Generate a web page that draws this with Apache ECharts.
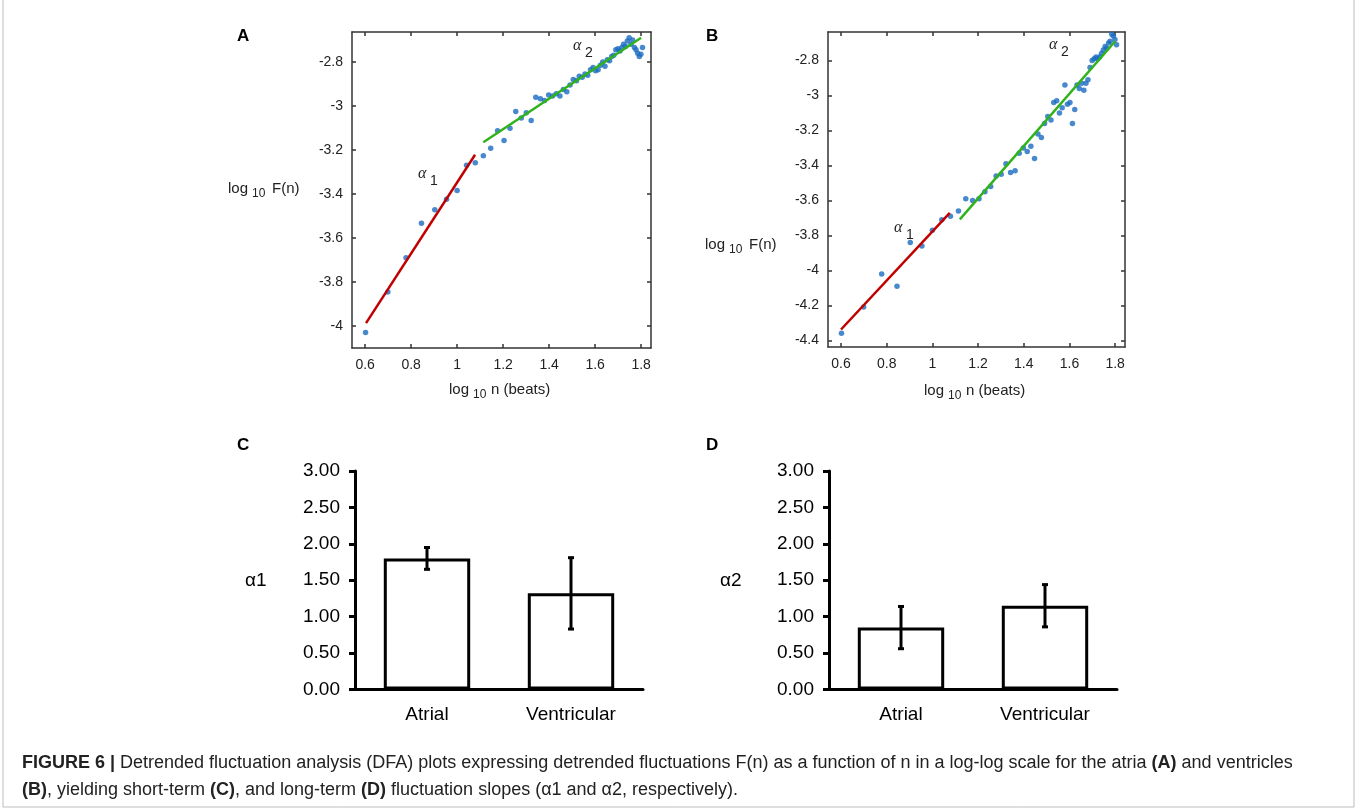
<!DOCTYPE html>
<html>
<head>
<meta charset="utf-8">
<script src="https://cdn.jsdelivr.net/npm/echarts@6/dist/echarts.min.js"></script>
<style>
html,body{margin:0;padding:0;background:#fff;}
#main{width:1357px;height:810px;}
</style>
</head>
<body>
<div id="main"></div>
<script>
// ---------- DATA ----------
// log10 n (beats) for n = 4..64
const logN = [0.602,0.699,0.778,0.845,0.903,0.954,1.000,1.041,1.079,1.114,1.146,1.176,1.204,1.230,1.255,1.279,1.301,1.322,1.342,1.362,
  1.380,1.398,1.415,1.431,1.447,1.462,1.477,1.491,1.505,1.519,1.531,1.544,1.556,1.568,1.580,1.591,1.602,1.613,1.623,1.633,
  1.643,1.653,1.663,1.672,1.681,1.690,1.699,1.708,1.716,1.724,1.732,1.740,1.748,1.756,1.763,1.771,1.778,1.785,1.792,1.799,1.806];
// Panel A (atria) log10 F(n)
const logF_A = [-4.03,-3.845,-3.69,-3.533,-3.472,-3.424,-3.384,-3.27,-3.258,-3.226,-3.192,-3.113,-3.157,-3.101,-3.025,-3.055,-3.031,-3.066,-2.96,-2.967,
  -2.975,-2.950,-2.955,-2.945,-2.955,-2.925,-2.935,-2.905,-2.880,-2.885,-2.865,-2.870,-2.855,-2.860,-2.835,-2.825,-2.840,-2.835,-2.815,-2.800,
  -2.820,-2.790,-2.795,-2.775,-2.770,-2.745,-2.740,-2.750,-2.735,-2.720,-2.730,-2.705,-2.690,-2.720,-2.700,-2.735,-2.745,-2.760,-2.775,-2.765,-2.735];
// Panel B (ventricles) log10 F(n)
const logF_B = [-4.36,-4.21,-4.02,-4.09,-3.84,-3.86,-3.77,-3.71,-3.69,-3.66,-3.59,-3.60,-3.59,-3.55,-3.52,-3.46,-3.45,-3.39,-3.44,-3.43,
  -3.33,-3.30,-3.32,-3.29,-3.36,-3.22,-3.24,-3.16,-3.12,-3.14,-3.04,-3.03,-3.10,-3.07,-2.94,-3.05,-3.04,-3.16,-3.08,-2.94,
  -2.96,-2.93,-2.97,-2.93,-2.91,-2.84,-2.80,-2.79,-2.78,-2.79,-2.78,-2.76,-2.74,-2.72,-2.73,-2.70,-2.69,-2.65,-2.66,-2.68,-2.71];
// fitted lines (end points)
const fitA1 = [[0.604,-3.987],[1.078,-3.222]];
const fitA2 = [[1.114,-3.165],[1.800,-2.690]];
const fitB1 = [[0.600,-4.338],[1.076,-3.671]];
const fitB2 = [[1.120,-3.708],[1.800,-2.690]];
// tick labels
const xTicksScatter = [0.6,0.8,1.0,1.2,1.4,1.6,1.8];
const yTicksA = [-4,-3.8,-3.6,-3.4,-3.2,-3,-2.8];
const yTicksB = [-4.4,-4.2,-4,-3.8,-3.6,-3.4,-3.2,-3,-2.8];
// bar panels
const groups = ['Atrial','Ventricular'];
const alpha1Mean = [1.80, 1.32];
const alpha1Err = [0.15, 0.49];
const alpha2Mean = [0.85, 1.15];
const alpha2Err = [0.29, 0.29];

// ---------- CHART ----------
const FONT = "'Liberation Sans', Arial, sans-serif";
const chart = echarts.init(document.getElementById('main'), null, {renderer:'canvas'});

function zip(xs, ys){ return xs.map((x,i)=>[x, ys[i]]); }

function scatterX(grid, pos, show){
  return {
    type:'value', gridIndex:grid, position:pos, min:0.543, max:1.843,
    axisLine:{show:true, onZero:false, lineStyle:{color:'#333', width:1.5}},
    axisTick:{show:true, inside:true, length:4, customValues:xTicksScatter, lineStyle:{color:'#333', width:1.5}},
    axisLabel:{show:show, customValues:xTicksScatter, fontSize:14, color:'#222', fontFamily:FONT, margin:10},
    splitLine:{show:false}
  };
}
function scatterY(grid, pos, show, min, max, ticks){
  return {
    type:'value', gridIndex:grid, position:pos, min:min, max:max,
    axisLine:{show:true, onZero:false, lineStyle:{color:'#333', width:1.5}},
    axisTick:{show:true, inside:true, length:4, customValues:ticks, lineStyle:{color:'#333', width:1.5}},
    axisLabel:{show:show, customValues:ticks, fontSize:14, color:'#222', fontFamily:FONT, margin:9},
    splitLine:{show:false}
  };
}
function barX(grid){
  return {
    type:'category', gridIndex:grid, data:groups,
    axisLine:{show:true, lineStyle:{color:'#000', width:3}},
    axisTick:{show:false},
    axisLabel:{fontSize:19, color:'#000', fontFamily:FONT, margin:16},
    splitLine:{show:false}
  };
}
function barY(grid){
  return {
    type:'value', gridIndex:grid, min:0, max:3, interval:0.5,
    axisLine:{show:true, lineStyle:{color:'#000', width:3}},
    axisTick:{show:true, inside:false, length:6, lineStyle:{color:'#000', width:3}},
    axisLabel:{fontSize:19, color:'#000', fontFamily:FONT, margin:15, formatter:v=>v.toFixed(2)},
    splitLine:{show:false}
  };
}
function errSeries(xi, yi, means, errs){
  return {
    type:'custom', xAxisIndex:xi, yAxisIndex:yi, z:5,
    data: means.map((m,i)=>[i, m-errs[i], m+errs[i]]),
    renderItem:function(params, api){
      const lo = api.coord([api.value(0), api.value(1)]);
      const hi = api.coord([api.value(0), api.value(2)]);
      const cw = 3;
      const st = {stroke:'#000', lineWidth:3};
      return {type:'group', children:[
        {type:'line', shape:{x1:lo[0], y1:lo[1], x2:hi[0], y2:hi[1]}, style:st},
        {type:'line', shape:{x1:lo[0]-cw, y1:lo[1], x2:lo[0]+cw, y2:lo[1]}, style:st},
        {type:'line', shape:{x1:hi[0]-cw, y1:hi[1], x2:hi[0]+cw, y2:hi[1]}, style:st}
      ]};
    }
  };
}
function txt(x, y, s, o){
  o = o || {};
  return {type:'text', x:x, y:y, z:100, style:Object.assign({text:s, fontSize:15, fontFamily:FONT, fill:'#222', textAlign:'left', textVerticalAlign:'middle'}, o)};
}
const SERIF_IT = {fontSize:16, fontStyle:'italic', fontFamily:"'Liberation Serif', serif"};

const option = {
  animation:false,
  backgroundColor:'#fff',
  grid:[
    {left:352, top:32, width:299, height:316},
    {left:828, top:32, width:297, height:315},
    {left:355, top:471, width:288, height:218.5},
    {left:829, top:471, width:288, height:218.5}
  ],
  xAxis:[
    scatterX(0,'bottom',true), scatterX(0,'top',false),
    scatterX(1,'bottom',true), scatterX(1,'top',false),
    barX(2), barX(3)
  ],
  yAxis:[
    scatterY(0,'left',true,-4.1,-2.664,yTicksA), scatterY(0,'right',false,-4.1,-2.664,yTicksA),
    scatterY(1,'left',true,-4.438,-2.637,yTicksB), scatterY(1,'right',false,-4.438,-2.637,yTicksB),
    barY(2), barY(3)
  ],
  series:[
    {type:'scatter', xAxisIndex:0, yAxisIndex:0, data:zip(logN, logF_A), symbolSize:5.5, itemStyle:{color:'#1a6cc2'}},
    {type:'line', xAxisIndex:0, yAxisIndex:0, data:fitA1, showSymbol:false, lineStyle:{color:'#c00000', width:2.5}},
    {type:'line', xAxisIndex:0, yAxisIndex:0, data:fitA2, showSymbol:false, lineStyle:{color:'#2fb21a', width:2.5}},
    {type:'scatter', xAxisIndex:2, yAxisIndex:2, data:zip(logN, logF_B), symbolSize:5.5, itemStyle:{color:'#1a6cc2'}},
    {type:'line', xAxisIndex:2, yAxisIndex:2, data:fitB1, showSymbol:false, lineStyle:{color:'#c00000', width:2.5}},
    {type:'line', xAxisIndex:2, yAxisIndex:2, data:fitB2, showSymbol:false, lineStyle:{color:'#2fb21a', width:2.5}},
    {type:'bar', xAxisIndex:4, yAxisIndex:4, data:alpha1Mean, barWidth:'60%', itemStyle:{color:'#fff', borderColor:'#000', borderWidth:3}},
    errSeries(4,4,alpha1Mean,alpha1Err),
    {type:'bar', xAxisIndex:5, yAxisIndex:5, data:alpha2Mean, barWidth:'60%', itemStyle:{color:'#fff', borderColor:'#000', borderWidth:3}},
    errSeries(5,5,alpha2Mean,alpha2Err)
  ],
  graphic:[
    // figure border
    {type:'rect', z:0, shape:{x:3, y:-2, width:1351, height:809}, style:{fill:null, stroke:'#bdbdbd', lineWidth:1}},
    // panel letters
    txt(237,36,'A',{fontSize:17, fontWeight:'bold', fill:'#000'}),
    txt(706,36,'B',{fontSize:17, fontWeight:'bold', fill:'#000'}),
    txt(237,445,'C',{fontSize:17, fontWeight:'bold', fill:'#000'}),
    txt(706,445,'D',{fontSize:17, fontWeight:'bold', fill:'#000'}),
    // axis names A
    txt(228,189,'log'), txt(252,194,'10',{fontSize:12}), txt(272,189,'F(n)'),
    txt(449,390,'log'), txt(473,395,'10',{fontSize:12}), txt(491,390,'n (beats)'),
    // axis names B
    txt(705,245,'log'), txt(729,250,'10',{fontSize:12}), txt(749,245,'F(n)'),
    txt(924,391,'log'), txt(948,396,'10',{fontSize:12}), txt(966,391,'n (beats)'),
    // alpha annotations
    txt(418,174,'α',SERIF_IT), txt(430,181,'1',{fontSize:14}),
    txt(573,46,'α',SERIF_IT), txt(585,53,'2',{fontSize:14}),
    txt(894,228,'α',SERIF_IT), txt(906,235,'1',{fontSize:14}),
    txt(1049,45,'α',SERIF_IT), txt(1061,52,'2',{fontSize:14}),
    // bar y names
    txt(245,581,'α1',{fontSize:19, fill:'#000'}),
    txt(720,581,'α2',{fontSize:19, fill:'#000'}),
    // caption
    {type:'text', x:22, y:763, z:100, style:{
      text:'{b|FIGURE 6 |} Detrended fluctuation analysis (DFA) plots expressing detrended fluctuations F(n) as a function of n in a log-log scale for the atria {b|(A)} and ventricles',
      fontSize:18, fontFamily:FONT, fill:'#222', textVerticalAlign:'middle',
      rich:{b:{fontWeight:'bold', fontSize:18, fontFamily:FONT, fill:'#222'}}
    }},
    {type:'text', x:22, y:790, z:100, style:{
      text:'{b|(B)}, yielding short-term {b|(C)}, and long-term {b|(D)} fluctuation slopes (α1 and α2, respectively).',
      fontSize:18, fontFamily:FONT, fill:'#222', textVerticalAlign:'middle',
      rich:{b:{fontWeight:'bold', fontSize:18, fontFamily:FONT, fill:'#222'}}
    }}
  ]
};
chart.setOption(option);
</script>
</body>
</html>
